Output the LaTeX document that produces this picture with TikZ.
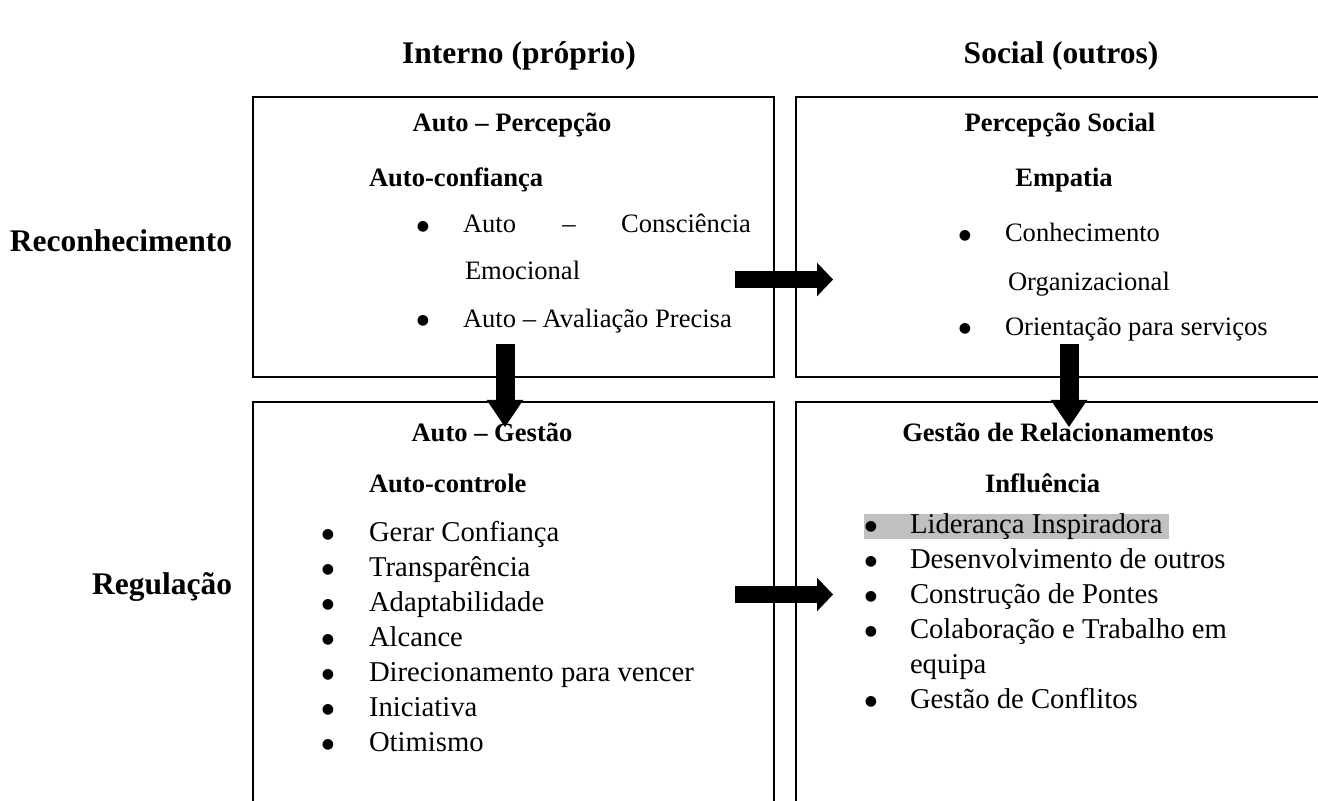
\documentclass[tikz,border=0pt]{standalone}
\usepackage{fontspec}
\setmainfont{Liberation Serif}
\newfontfamily\symfont{DejaVu Sans}
\usetikzlibrary{arrows.meta}
\definecolor{hlgray}{RGB}{192,192,192}
\newcommand{\bigdot}{\raisebox{2.1pt}{\symfont\fontsize{10}{11}\selectfont ●}}
\tikzset{
  axislabel/.style={inner sep=0, outer sep=0, font=\fontsize{22.4}{26}\selectfont\bfseries},
  boxhead/.style={inner sep=0, outer sep=0, anchor=base, font=\fontsize{18.9}{22}\selectfont\bfseries},
  subhead/.style={inner sep=0, outer sep=0, anchor=base west, font=\fontsize{18.9}{22}\selectfont\bfseries},
  toptext/.style={inner sep=0, outer sep=0, anchor=base west, font=\fontsize{18.9}{22}\selectfont},
  bottext/.style={inner sep=0, outer sep=0, anchor=base west, font=\fontsize{20.4}{23}\selectfont},
  dot/.style={inner sep=0, outer sep=0, anchor=base},
  quad/.style={draw, line width=1.1pt, inner sep=0, outer sep=0},
  harrow/.style={line width=0.4cm, -{Triangle[length=0.4cm, width=0.84cm, line width=0pt]}},
  varrow/.style={line width=0.475cm, -{Triangle[length=0.68cm, width=0.92cm, line width=0pt]}}
}

\begin{document}
\begin{tikzpicture}[x=0.025cm, y=-0.025cm]
\useasboundingbox (0,0) rectangle (1318,801);

% quadrants
\node [quad, minimum width=13.025cm, minimum height=7cm] (percep) at (513.5,237) {};
\node [quad, minimum width=13.6cm, minimum height=7cm] (social) at (1068,237) {};
\node [quad, minimum width=13.025cm, minimum height=12cm] (gestao) at (513.5,642) {};
\node [quad, minimum width=13.6cm, minimum height=12cm] (relac) at (1068,642) {};

\node [axislabel, anchor=base] (interno) at (519,64) {Interno (próprio)};
\node [axislabel, anchor=base] (outros) at (1061,64) {Social (outros)};
\node [axislabel, anchor=base east] (reconh) at (232,252) {Reconhecimento};
\node [axislabel, anchor=base east] (regul) at (232,594) {Regulação};

% auto - percepcao
\node [boxhead] (h1) at (512,132) {Auto – Percepção};
\node [subhead] (s1) at (369,187) {Auto-confiança};
\node [dot] (d11) at (423,233) {\bigdot};
\node [toptext] (t11a) at (463,233) {Auto};
\node [toptext, anchor=base] (t11b) at (569,233) {–};
\node [toptext, anchor=base east] (t11c) at (751,233) {Consciência};
\node [toptext] (t11d) at (465,280) {Emocional};
\node [dot] (d12) at (423,327) {\bigdot};
\node [toptext] (t12) at (463,327) {Auto – Avaliação Precisa};

% percepcao social
\node [boxhead] (h2) at (1060,132) {Percepção Social};
\node [boxhead] (s2) at (1064,187) {Empatia};
\node [dot] (d21) at (965,242) {\bigdot};
\node [toptext] (t21a) at (1005,242) {Conhecimento};
\node [toptext] (t21b) at (1008,290) {Organizacional};
\node [dot] (d22) at (965,335) {\bigdot};
\node [toptext] (t22) at (1005,335) {Orientação para serviços};

% auto - gestao
\node [boxhead] (h3) at (492,441) {Auto – Gestão};
\node [subhead] (s3) at (369,492) {Auto-controle};
\foreach \txt [count=\i] in {Gerar Confiança, Transparência, Adaptabilidade, Alcance,
    Direcionamento para vencer, Iniciativa, Otimismo}{
  \node [dot] (d3\i) at (328,{541+35*(\i-1)}) {\bigdot};
  \node [bottext] (t3\i) at (369,{541+35*(\i-1)}) {\txt};
}

% gestao de relacionamentos
\node [boxhead] (h4) at (1058,441) {Gestão de Relacionamentos};
\node [subhead] (s4) at (985,492) {Influência};
\fill [hlgray] (864,514) rectangle (1169,539);
\foreach \txt [count=\i] in {Liderança Inspiradora, Desenvolvimento de outros,
    Construção de Pontes, Colaboração e Trabalho em}{
  \node [dot] (d4\i) at (871,{533+35*(\i-1)}) {\bigdot};
  \node [bottext] (t4\i) at (910,{533+35*(\i-1)}) {\txt};
}
\node [bottext] (t45) at (910,673) {equipa};
\node [dot] (d46) at (871,708) {\bigdot};
\node [bottext] (t46) at (910,708) {Gestão de Conflitos};

% arrows
\coordinate (a1) at (735,279.5);
\coordinate (b1) at (833,279.5);
\coordinate (a2) at (735,594.5);
\coordinate (b2) at (833,594.5);
\coordinate (a3) at (505,344);
\coordinate (b3) at (505,427);
\coordinate (a4) at (1069,344);
\coordinate (b4) at (1069,427);
\draw [harrow] (a1) -- (b1);
\draw [harrow] (a2) -- (b2);
\draw [varrow] (a3) -- (b3);
\draw [varrow] (a4) -- (b4);
\end{tikzpicture}
\end{document}
